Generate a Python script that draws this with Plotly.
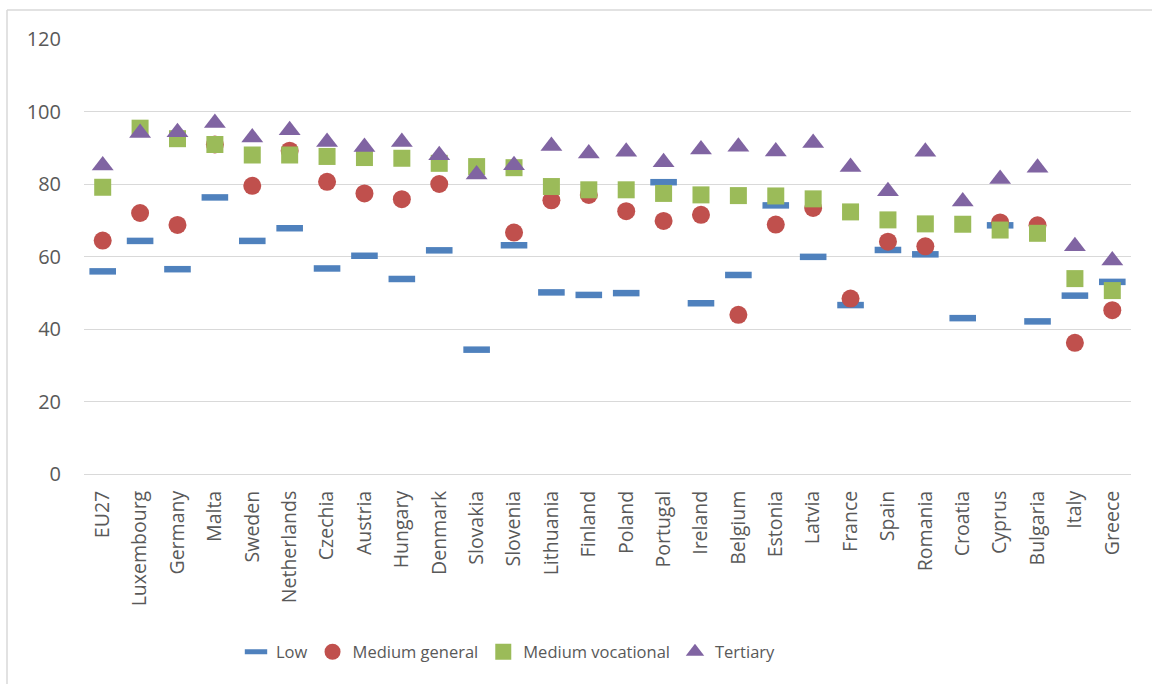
import plotly.graph_objects as go

countries = ["EU27", "Luxembourg", "Germany", "Malta", "Sweden", "Netherlands", "Czechia",
             "Austria", "Hungary", "Denmark", "Slovakia", "Slovenia", "Lithuania", "Finland",
             "Poland", "Portugal", "Ireland", "Belgium", "Estonia", "Latvia", "France", "Spain",
             "Romania", "Croatia", "Cyprus", "Bulgaria", "Italy", "Greece"]

low = [55.9, 64.3, 56.5, 76.3, 64.3, 67.8, 56.7, 60.2, 53.8, 61.7, 34.3, 63.1, 50.1, 49.4,
       49.9, 80.5, 47.1, 54.9, 74.1, 59.9, 46.6, 61.8, 60.6, 43.0, 68.6, 42.1, 49.2, 53.0]
medium_general = [64.4, 72.0, 68.7, 90.9, 79.5, 89.2, 80.6, 77.4, 75.8, 80.0, None, 66.6, 75.5, 77.0,
                  72.5, 69.8, 71.5, 43.9, 68.8, 73.4, 48.4, 64.1, 62.8, None, 69.4, 68.6, 36.2, 45.2]
medium_vocational = [79.1, 95.4, 92.5, 90.9, 88.0, 88.0, 87.6, 87.3, 87.1, 85.7, 84.8, 84.5, 79.3, 78.4,
                     78.4, 77.4, 77.0, 76.8, 76.7, 75.9, 72.3, 70.1, 69.0, 68.9, 67.3, 66.4, 53.9, 50.6]
tertiary = [85.1, 94.1, 94.3, 96.8, 92.8, 94.8, 91.6, 90.2, 91.6, 87.9, 82.6, 85.2, 90.5, 88.4,
            88.9, 86.0, 89.5, 90.3, 89.0, 91.3, 84.7, 78.0, 88.9, 75.2, 81.4, 84.5, 62.8, 58.9]

y_ticks = [0, 20, 40, 60, 80, 100, 120]

GREY = "#595959"
FONT = "Open Sans"

fig = go.Figure()
fig.add_trace(go.Scatter(
    x=countries, y=low, mode="markers", name="Low",
    marker=dict(symbol="line-ew", size=19, color="#4F81BD",
                line=dict(color="#4F81BD", width=6.5))))
fig.add_trace(go.Scatter(
    x=countries, y=medium_general, mode="markers", name="Medium general",
    marker=dict(symbol="circle", size=18, color="#C0504D", line=dict(width=0))))
fig.add_trace(go.Scatter(
    x=countries, y=medium_vocational, mode="markers", name="Medium vocational",
    marker=dict(symbol="square", size=17, color="#9BBB59", line=dict(width=0))))
fig.add_trace(go.Scatter(
    x=countries, y=tertiary, mode="markers", name="Tertiary",
    marker=dict(symbol="triangle-up", size=19, color="#8064A2", line=dict(width=0))))

L, R, T, B = 84, 21, 39, 210
W, H = 1152, 684
pw = W - L - R
ph = H - T - B


def px_x(px):
    return (px - L) / pw


def px_y(py):
    return (H - B - py) / ph


fig.update_layout(
    width=W, height=H,
    margin=dict(l=L, r=R, t=T, b=B, pad=0),
    paper_bgcolor="white", plot_bgcolor="white",
    font=dict(family=FONT, color=GREY, size=18),
    showlegend=True,
    legend=dict(orientation="h", x=px_x(236), xanchor="left", y=px_y(652), yanchor="middle",
                font=dict(family=FONT, size=16.5, color=GREY), itemwidth=30,
                bgcolor="rgba(0,0,0,0)", traceorder="normal"),
    xaxis=dict(type="category", categoryorder="array", categoryarray=countries,
               tickangle=-90, tickfont=dict(family=FONT, size=19.5, color=GREY),
               showgrid=False, showline=True, linecolor="#D9D9D9", linewidth=1,
               ticks="", ticklabelstandoff=8, range=[-0.5, len(countries) - 0.5]),
    yaxis=dict(range=[0, 120], tickvals=y_ticks, ticktext=[str(v) for v in y_ticks],
               tickfont=dict(family=FONT, size=20, color=GREY),
               showgrid=True, gridcolor="#D9D9D9", gridwidth=1, zeroline=False,
               showline=False, ticks="", ticklabelstandoff=22),
    shapes=[
        dict(type="line", xref="paper", yref="paper", x0=px_x(7), x1=px_x(1152),
             y0=px_y(10), y1=px_y(10), line=dict(color="#D9D9D9", width=1.5)),
        dict(type="line", xref="paper", yref="paper", x0=px_x(7), x1=px_x(7),
             y0=px_y(10), y1=px_y(684), line=dict(color="#D9D9D9", width=1.5)),
    ],
)

fig.write_html("out.html", config={"displayModeBar": False},
               post_script="document.body.style.margin='0';")
